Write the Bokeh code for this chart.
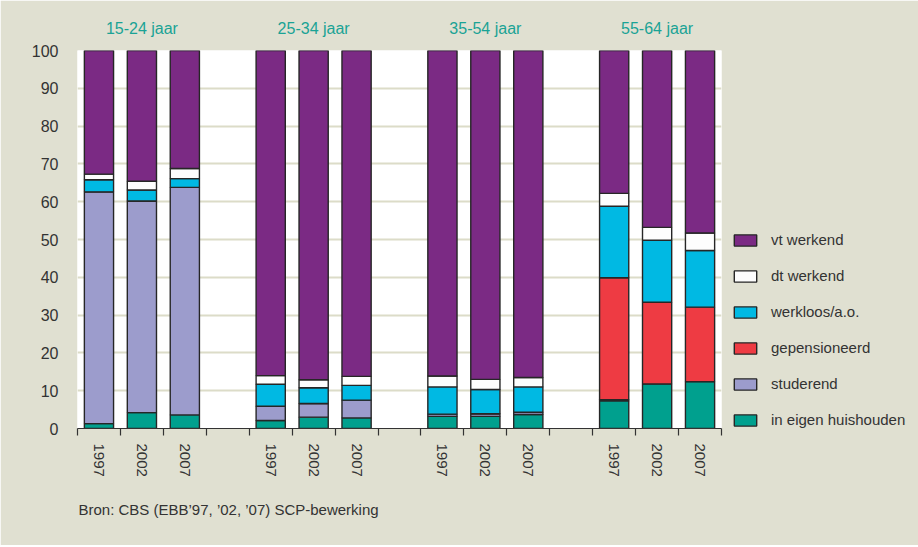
from bokeh.plotting import figure
from bokeh.models import (Range1d, FixedTicker, Legend, LegendItem, LinearAxis, Title,
                          ColumnDataSource)
from bokeh.embed import file_html
from bokeh.resources import INLINE

# ---- data ----
groups = ["15-24 jaar", "25-34 jaar", "35-54 jaar", "55-64 jaar"]
years = ["1997", "2002", "2007"]

series_names = ["in eigen huishouden", "studerend", "gepensioneerd",
                "werkloos/a.o.", "dt werkend", "vt werkend"]
in_eigen_huishouden = [1.3, 4.2, 3.6, 2.1, 3.0, 2.8, 3.2, 3.2, 3.7, 7.3, 11.8, 12.4]
studerend = [61.3, 56.0, 60.2, 3.8, 3.6, 4.7, 0.6, 0.7, 0.6, 0.3, 0.0, 0.0]
gepensioneerd = [0.0, 0.0, 0.0, 0.0, 0.0, 0.0, 0.0, 0.0, 0.0, 32.3, 21.6, 19.7]
werkloos = [3.2, 2.9, 2.3, 5.8, 4.2, 3.9, 7.2, 6.4, 6.7, 18.9, 16.4, 15.0]
dt_werkend = [1.5, 2.3, 2.7, 2.3, 2.1, 2.4, 2.9, 2.7, 2.5, 3.4, 3.4, 4.6]
vt_werkend = [32.7, 34.6, 31.2, 86.0, 87.1, 86.2, 86.1, 87.0, 86.5, 37.8, 46.8, 48.3]

colors = ["#00a08e", "#9c9ccc", "#ee3b43", "#00b9e3", "#fdfdfd", "#7b2a84"]
source_note = "Bron: CBS (EBB\u201997, \u201902, \u201907) SCP-bewerking"

FONT = "Liberation Sans"
BG = "#e0e0d1"
TXT = "#333333"

# ---- positions: 4 slots per group (3 bars + gap) ----
xs, labels = [], {}
group_x, group_labels = [], {}
for gi, g in enumerate(groups):
    gx = gi * 4 + 1.5
    group_x.append(gx)
    group_labels[gx] = g
    for yi, y in enumerate(years):
        x = gi * 4 + yi + 0.5
        xs.append(x)
        labels[x] = y
n_slots = len(groups) * 4 - 1

keys = ["s%d" % i for i in range(len(series_names))]
data = dict(x=xs)
for k, vals in zip(keys, [in_eigen_huishouden, studerend, gepensioneerd,
                          werkloos, dt_werkend, vt_werkend]):
    data[k] = vals
src = ColumnDataSource(data)

p = figure(frame_width=644, frame_height=378, width=917, height=545,
           x_range=Range1d(0, n_slots), y_range=Range1d(0, 100),
           output_backend="svg", toolbar_location=None,
           min_border_left=77, min_border_right=196, min_border_top=50,
           min_border_bottom=117)
p.background_fill_color = "white"
p.border_fill_color = BG
p.outline_line_color = None

renderers = p.vbar_stack(keys, x="x", width=0.68, source=src, fill_color=colors,
                         line_color="#262626", line_width=1.4)

# y axis
p.yaxis.ticker = FixedTicker(ticks=list(range(0, 101, 10)))
p.yaxis.axis_line_color = None
p.yaxis.major_tick_line_color = None
p.yaxis.minor_tick_line_color = None
p.yaxis.major_label_standoff = 13
p.yaxis.major_label_text_font = FONT
p.yaxis.major_label_text_font_size = "16px"
p.yaxis.major_label_text_color = TXT

# x axis
p.xaxis.ticker = FixedTicker(ticks=xs, minor_ticks=list(range(0, n_slots + 1)))
p.xaxis.major_label_overrides = labels
p.xaxis.major_tick_out = 0
p.xaxis.major_tick_in = 0
p.xaxis.minor_tick_out = 7
p.xaxis.minor_tick_in = 0
p.xaxis.minor_tick_line_color = TXT
p.xaxis.minor_tick_line_width = 1.2
p.xaxis.axis_line_color = TXT
p.xaxis.axis_line_width = 1.2
p.xaxis.major_label_orientation = "vertical"
p.xaxis.major_label_standoff = 8
p.xaxis.major_label_text_font = FONT
p.xaxis.major_label_text_font_size = "15px"
p.xaxis.major_label_text_color = TXT

p.xgrid.grid_line_color = None
p.ygrid.grid_line_color = "#dcdcc8"
p.ygrid.grid_line_width = 2

# group titles as an axis above the frame
top_axis = LinearAxis(ticker=FixedTicker(ticks=group_x), major_label_overrides=group_labels,
                      axis_line_color=None, major_tick_line_color=None,
                      minor_tick_line_color=None, major_label_standoff=8,
                      major_label_text_font=FONT, major_label_text_font_size="16px",
                      major_label_text_color="#1aa395")
p.add_layout(top_axis, "above")

# source note
note = Title(text=source_note, align="left", offset=1, standoff=39,
             text_font=FONT, text_font_size="15px", text_font_style="normal",
             text_color=TXT)
p.add_layout(note, "below")

# legend
items = [LegendItem(label=name, renderers=[r])
         for name, r in zip(series_names, renderers)][::-1]
legend = Legend(items=items, location=(10, 0), padding=0, margin=0,
                glyph_width=28, glyph_height=14, label_height=14,
                label_standoff=12, spacing=19,
                border_line_color=None, background_fill_alpha=0,
                label_text_font=FONT, label_text_font_size="15px",
                label_text_color=TXT)
p.add_layout(legend, "right")

open("out.html", "w").write(file_html(p, INLINE))
